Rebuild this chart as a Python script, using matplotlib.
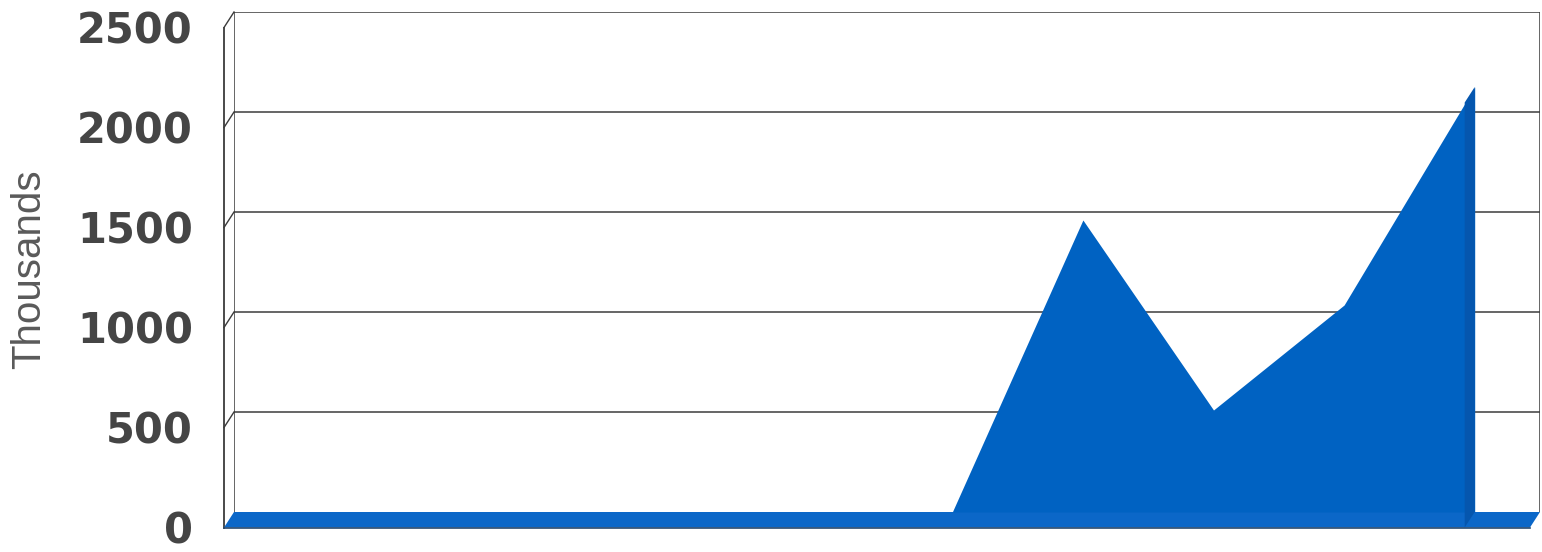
import matplotlib
matplotlib.use('Agg')
import matplotlib.pyplot as plt
import matplotlib.transforms as mtransforms
from matplotlib.lines import Line2D
from matplotlib.patches import Polygon
import numpy as np

# Séries (en milliers), une valeur par catégorie
categories = list(range(1, 11))
values = [0, 0, 0, 0, 0, 0, 1460, 510, 1035, 2125]
y_ticks = [0, 500, 1000, 1500, 2000, 2500]
y_labels = ['0', '500', '1000', '1500', '2000', '2500']

AREA_BLUE = '#0062c2'
FLOOR_BLUE = '#0b67c8'
SIDE_BLUE = '#0556ae'
EDGE = '#3c3c3c'
DEPTH = (-0.10, -0.155)   # décalage du plan avant (pouces)

fig = plt.figure(figsize=(15.42, 5.52), dpi=100)
ax = fig.add_axes([234 / 1542, 40 / 552, 1306 / 1542, 500 / 552])
ax.set_xlim(0, len(categories))
ax.set_ylim(0, y_ticks[-1])
ax.axis('off')

front = ax.transData + mtransforms.ScaledTranslation(*DEPTH, fig.dpi_scale_trans)
px = mtransforms.IdentityTransform()
x0, x1 = 0, len(categories)


def back_front(x, y):
    """Point (x, y) sur le plan arrière puis sur le plan avant, en pixels."""
    return ax.transData.transform((x, y)), front.transform((x, y))


# grille du mur du fond
ax.hlines(y_ticks[1:], x0, x1, colors=EDGE, lw=1.1, zorder=1)
ax.vlines([x0, x1], 0, y_ticks[-1], colors=EDGE, lw=1.1, zorder=1)

# mur de gauche : arête avant + raccords des lignes de grille
ax.add_line(Line2D([x0, x0], [0, y_ticks[-1]], transform=front,
                   color=EDGE, lw=1.3, clip_on=False, zorder=1))
for v in y_ticks[1:]:
    b, f = back_front(x0, v)
    ax.add_line(Line2D([b[0], f[0]], [b[1], f[1]], transform=px,
                       color=EDGE, lw=1.0, clip_on=False, zorder=1))

# sol bleu
bl, fl = back_front(x0, 0)
br, fr = back_front(x1, 0)
ax.add_artist(Polygon([bl, br, fr, fl], closed=True, transform=px,
                      facecolor=FLOOR_BLUE, edgecolor='none',
                      clip_on=False, zorder=2))
ax.add_line(Line2D([fl[0], fr[0]], [fl[1], fr[1]], transform=px,
                   color='#27496e', lw=1.2, clip_on=False, zorder=2))

# aire
centers = np.arange(len(categories)) + 0.5
xs = np.concatenate([[x0], centers])
ys = np.concatenate([[values[0]], values])
ax.fill_between(xs, 0, ys, color=AREA_BLUE, lw=0, zorder=3)

# face latérale droite de l'aire
tb, tf = back_front(centers[-1], values[-1])
gb, gf = back_front(centers[-1], 0)
ax.add_artist(Polygon([gb, tb, tf, gf], closed=True, transform=px,
                      facecolor=SIDE_BLUE, edgecolor='none',
                      clip_on=False, zorder=4))

# étiquettes de l'axe vertical, alignées sur le plan avant
lbl_tr = ax.transData + mtransforms.ScaledTranslation(-0.41, -0.19, fig.dpi_scale_trans)
for v, lbl in zip(y_ticks, y_labels):
    ax.text(x0, v, lbl, transform=lbl_tr, ha='right', va='center',
            fontsize=30, fontweight='bold', color='#454545',
            family='DejaVu Sans', clip_on=False)

fig.text(29 / 1542, 1 - 269 / 552, 'Thousands', rotation=90,
         ha='center', va='center', fontsize=29, color='#5a5a5a',
         family='Liberation Sans')

fig.savefig('out.png', dpi=100)
